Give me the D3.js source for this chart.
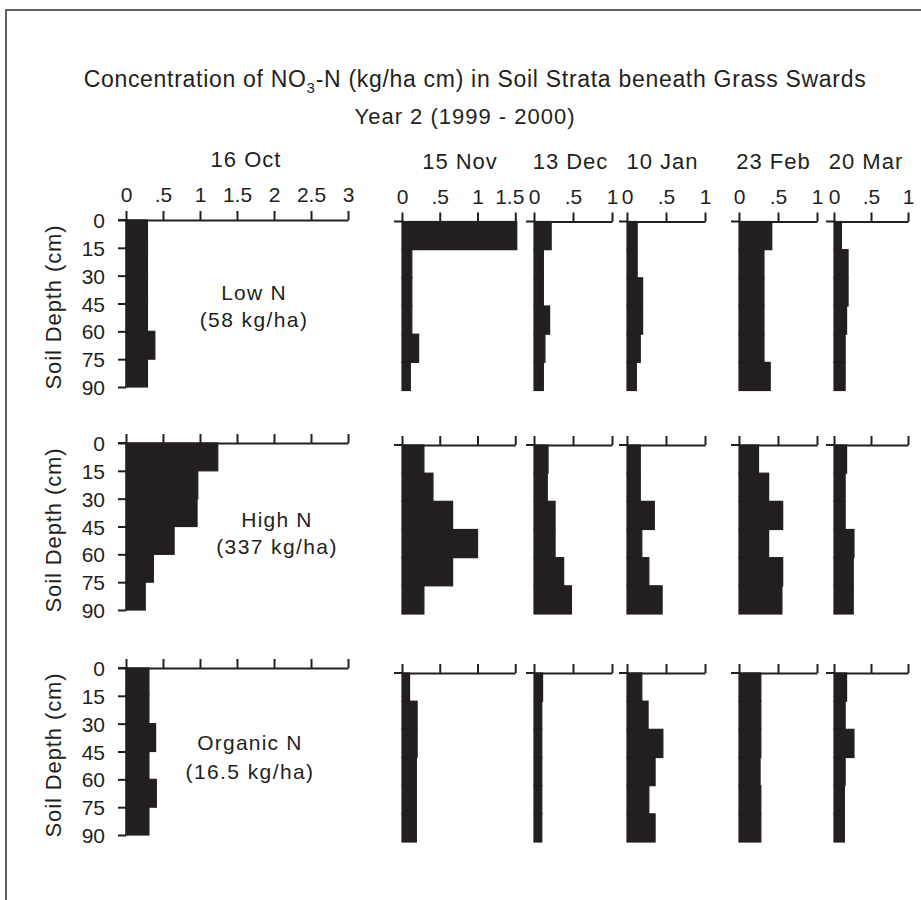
<!DOCTYPE html>
<html><head><meta charset="utf-8">
<script src="https://cdn.jsdelivr.net/npm/d3@7"></script>
<style>body{margin:0;background:#fff} svg{display:block}</style>
</head><body><svg id="chart" width="921" height="900"></svg>
<script>
// ---------- DATA ----------
const dates = ["16 Oct", "15 Nov", "13 Dec", "10 Jan", "23 Feb", "20 Mar"];
const depths = [0, 15, 30, 45, 60, 75, 90];               // soil layer boundaries (cm)
const treatments = ["Low N", "High N", "Organic N"];
const rates = ["(58 kg/ha)", "(337 kg/ha)", "(16.5 kg/ha)"];
const xMax = [3, 1.5, 1, 1, 1, 1];
const xTicks = [
  [0, .5, 1, 1.5, 2, 2.5, 3], [0, .5, 1, 1.5],
  [0, .5, 1], [0, .5, 1], [0, .5, 1], [0, .5, 1]
];
const xTickLabels = [
  ["0", ".5", "1", "1.5", "2", "2.5", "3"], ["0", ".5", "1", "1.5"],
  ["0", ".5", "1"], ["0", ".5", "1"], ["0", ".5", "1"], ["0", ".5", "1"]
];
// NO3-N (kg/ha cm) per 15 cm layer (0-15 ... 75-90), one row per date
const lowN = [
  [0.29, 0.29, 0.29, 0.29, 0.39, 0.29],
  [1.52, 0.13, 0.13, 0.13, 0.22, 0.11],
  [0.22, 0.12, 0.12, 0.20, 0.14, 0.12],
  [0.13, 0.13, 0.20, 0.20, 0.17, 0.12],
  [0.42, 0.32, 0.32, 0.32, 0.32, 0.40],
  [0.10, 0.19, 0.19, 0.17, 0.15, 0.15]
];
const highN = [
  [1.24, 0.97, 0.96, 0.65, 0.37, 0.26],
  [0.29, 0.41, 0.67, 1.00, 0.67, 0.29],
  [0.18, 0.17, 0.27, 0.27, 0.38, 0.48],
  [0.17, 0.17, 0.35, 0.19, 0.28, 0.45],
  [0.25, 0.38, 0.56, 0.38, 0.56, 0.55],
  [0.17, 0.15, 0.15, 0.27, 0.26, 0.26]
];
const organicN = [
  [0.31, 0.31, 0.40, 0.31, 0.41, 0.31],
  [0.10, 0.20, 0.20, 0.19, 0.19, 0.19],
  [0.11, 0.10, 0.10, 0.10, 0.10, 0.10],
  [0.19, 0.27, 0.46, 0.36, 0.28, 0.36],
  [0.28, 0.28, 0.28, 0.27, 0.28, 0.28],
  [0.17, 0.15, 0.27, 0.15, 0.14, 0.14]
];
const series = [lowN, highN, organicN];

// ---------- LAYOUT ----------
const ink = "#231f20";
const font = "'Liberation Sans', Arial, Helvetica, sans-serif";
const colX0 = [126, 402, 534, 627, 739, 834];
const colPx = [74, 75.5, 78, 78, 78, 74];          // px per kg/ha cm
const headerX = [246, 460, 570.5, 662.5, 773.5, 866];
const rowY = [220, 443, 668];
const rowShift = [1.5, 2, 5];                      // right panels sit slightly lower
const labelX = [254, 277, 250];
const labelDy = [[72.5, 99], [76, 103], [74.5, 103]];

const svg = d3.select("#chart");

// frame
svg.append("rect").attr("x", 6).attr("y", 10).attr("width", 940).attr("height", 910)
  .attr("fill", "none").attr("stroke", "#3a3a3a").attr("stroke-width", 1.6);

// title
const title = svg.append("text").attr("x", 475).attr("y", 86.5)
  .attr("text-anchor", "middle").attr("font-family", font).attr("font-size", 23)
  .attr("letter-spacing", 0.7).attr("fill", ink);
title.append("tspan").text("Concentration of NO");
title.append("tspan").attr("font-size", 15).attr("dy", 6).text("3");
title.append("tspan").attr("dy", -6).text("-N (kg/ha cm) in Soil Strata beneath Grass Swards");

svg.append("text").attr("x", 465).attr("y", 124).attr("text-anchor", "middle")
  .attr("font-family", font).attr("font-size", 22).attr("letter-spacing", 1)
  .attr("fill", ink).text("Year 2 (1999 - 2000)");

// date headers
dates.forEach((d, c) => {
  svg.append("text").attr("x", headerX[c]).attr("y", c === 0 ? 167 : 169)
    .attr("text-anchor", "middle").attr("font-family", font).attr("font-size", 22)
    .attr("letter-spacing", 1).attr("fill", ink).text(d);
});

function styleAxis(g) {
  g.selectAll("path.domain").attr("stroke", ink).attr("stroke-width", 2);
  g.selectAll(".tick line").attr("stroke", ink).attr("stroke-width", 2);
  g.selectAll(".tick text").attr("fill", ink).attr("font-family", font).attr("font-size", 21);
}

series.forEach((rowData, r) => {
  dates.forEach((d, c) => {
    const top = rowY[r] + (c === 0 ? 0 : rowShift[r]);
    const span = c === 0 ? 167 : 169;
    const x = d3.scaleLinear().domain([0, xMax[c]]).range([colX0[c], colX0[c] + xMax[c] * colPx[c]]);
    const y = d3.scaleLinear().domain([0, 90]).range([top, top + span]);
    const g = svg.append("g");

    // bars (stepped profile)
    g.selectAll("rect.bar").data(rowData[c]).join("rect").attr("class", "bar")
      .attr("x", x(0))
      .attr("y", (v, i) => y(depths[i]))
      .attr("width", v => x(v) - x(0))
      .attr("height", (v, i) => y(depths[i + 1]) - y(depths[i]))
      .attr("fill", ink).attr("stroke", ink).attr("stroke-width", 1.2);

    // top axis
    const labels = xTickLabels[c];
    const ax = d3.axisTop(x).tickValues(xTicks[c]).tickSize(9).tickSizeOuter(0).tickPadding(9)
      .tickFormat((v, i) => r === 0 ? labels[i] : "");
    const ag = g.append("g").attr("transform", `translate(0,${top})`).call(ax);
    styleAxis(ag);
    if (c === 1) {
      ag.selectAll(".tick text").filter((v, i, n) => i === n.length - 1).attr("dx", -6);
    }
    // small extension of axis line to the left of zero
    g.append("line").attr("x1", x(0) - 8).attr("x2", x(0)).attr("y1", top).attr("y2", top)
      .attr("stroke", ink).attr("stroke-width", 2);

    if (c === 0) {
      const yl = d3.axisLeft(y).tickValues(depths).tickSize(8).tickSizeOuter(0).tickPadding(13)
        .tickFormat(d3.format("d"));
      const yg = g.append("g").attr("transform", `translate(${x(0)},0)`).call(yl);
      styleAxis(yg);
      yg.selectAll(".tick text").attr("dy", "0.36em");

      svg.append("text")
        .attr("transform", `translate(53,${top + 87}) rotate(-90)`)
        .attr("text-anchor", "middle").attr("dy", "0.36em")
        .attr("font-family", font).attr("font-size", 22).attr("letter-spacing", 0.9)
        .attr("fill", ink).text("Soil Depth (cm)");

      svg.append("text").attr("x", labelX[r]).attr("y", top + labelDy[r][0]).attr("dy", "0.36em")
        .attr("text-anchor", "middle").attr("font-family", font).attr("font-size", 21)
        .attr("letter-spacing", 1.2).attr("fill", ink).text(treatments[r]);
      svg.append("text").attr("x", labelX[r]).attr("y", top + labelDy[r][1]).attr("dy", "0.36em")
        .attr("text-anchor", "middle").attr("font-family", font).attr("font-size", 21)
        .attr("letter-spacing", 1.4).attr("fill", ink).text(rates[r]);
    }
  });
});
</script>
</body></html>
